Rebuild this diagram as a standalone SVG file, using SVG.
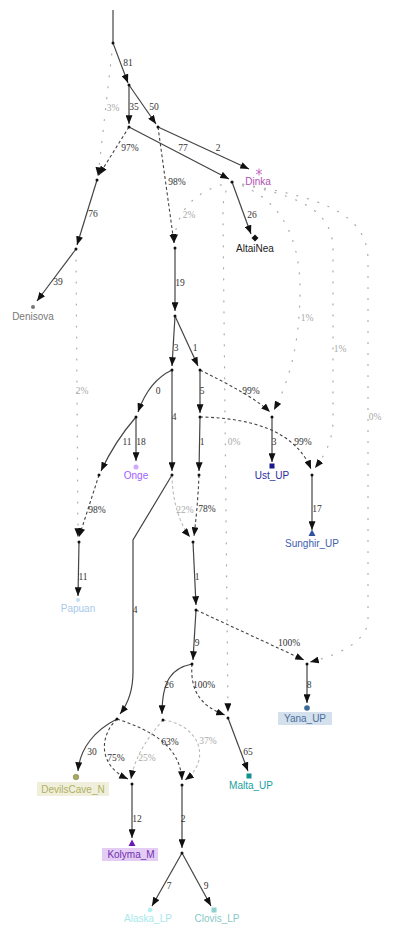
<svg xmlns="http://www.w3.org/2000/svg" width="403" height="947" viewBox="0 0 403 947">
<defs>
<marker id="ah" viewBox="0 0 10 8" refX="10" refY="4" markerWidth="9" markerHeight="7" markerUnits="userSpaceOnUse" orient="auto"><path d="M0,0 L10,4 L0,8 z" fill="#111"/></marker>
</defs>
<style>
.e{fill:none;stroke:#444;stroke-width:1.2}
.a{marker-end:url(#ah)}
.d{fill:none;stroke:#444;stroke-width:1.1;stroke-dasharray:3,2.5}
.l{fill:none;stroke:#bbb;stroke-width:1.1;stroke-dasharray:3,2.5}
.o{fill:none;stroke:#aaa;stroke-width:1.2;stroke-dasharray:1,10;stroke-linecap:round}
.el{font-family:"Liberation Serif",serif;font-size:9.5px;fill:#333;text-anchor:middle}
.pl{font-family:"Liberation Serif",serif;font-size:9.5px;fill:#aaa;text-anchor:middle}
.nl{font-family:"Liberation Sans",Arial,sans-serif;font-size:10px;text-anchor:middle}
.n{fill:#111}
</style>
<rect width="403" height="947" fill="#fff"/>
<g id="connectors">
<path class="e" d="M113,10 L113,43"/>
<path class="e a" d="M113,43 L128,83"/>
<path class="e a" d="M129,85 L129,124"/>
<path class="e a" d="M129,85 L156,124"/>
<path class="e a" d="M129,127 L229,179"/>
<path class="e a" d="M158,127 L249,169"/>
<path class="e a" d="M232,182 L251,234"/>
<path class="e a" d="M97,180 L77,245"/>
<path class="e a" d="M76,249 L37,301"/>
<path class="e a" d="M175,248 L175,311"/>
<path class="e a" d="M175,316 L172,366"/>
<path class="e a" d="M175,316 L198,366"/>
<path class="e a" d="M172,370 C155,378 145,392 138,412"/>
<path class="e a" d="M172,370 L172,471"/>
<path class="e a" d="M136,417 L136,461"/>
<path class="e a" d="M136,417 C122,433 110,452 101,471"/>
<path class="e a" d="M200,370 L200,413"/>
<path class="e a" d="M200,417 L199,471"/>
<path class="e a" d="M79,542 L78,596"/>
<path class="e a" d="M272,417 L272,462"/>
<path class="e a" d="M312,475 L312,530"/>
<path class="e a" d="M172,475 L133,540 L133,672 C133,690 127,705 120,714"/>
<path class="e a" d="M193,542 L196,605"/>
<path class="e a" d="M196,610 L193,660"/>
<path class="e a" d="M192,664 C172,668 162,680 162,714"/>
<path class="e a" d="M307,664 L307,703"/>
<path class="e a" d="M228,718 L248,771"/>
<path class="e a" d="M117,719 C95,730 80,748 78,771"/>
<path class="e a" d="M132,784 L132,838"/>
<path class="e a" d="M182,785 L182,848"/>
<path class="e a" d="M182,853 L152,906"/>
<path class="e a" d="M182,853 L211,906"/>
<path class="d a" d="M129,127 L99,175"/>
<path class="d a" d="M158,127 L174,243"/>
<path class="d a" d="M99,475 L79,537"/>
<path class="d a" d="M200,370 C230,385 255,398 270,412"/>
<path class="d a" d="M200,417 C250,418 295,430 311,469"/>
<path class="d a" d="M199,475 C198,500 196,520 194,536"/>
<path class="d a" d="M196,610 L304,660"/>
<path class="d a" d="M192,664 C190,690 200,706 225,715"/>
<path class="d a" d="M117,719 C100,735 97,765 128,779"/>
<path class="d a" d="M117,719 C150,730 180,745 182,780"/>
<path class="l a" d="M172,475 C172,500 180,525 190,537"/>
<path class="l a" d="M163,720 C150,735 135,755 131,779"/>
<path class="l a" d="M163,720 C200,725 212,760 185,780"/>
<path class="o a" d="M113,43 L98,176"/>
<path class="o a" d="M232,182 C195,190 176,210 174,243"/>
<path class="o a" d="M76,249 L78,537"/>
<path class="o a" d="M232,182 C275,195 300,230 300,290 C300,340 290,380 274,410"/>
<path class="o a" d="M232,182 C290,195 333,205 333,250 L333,420 C333,440 325,455 315,468"/>
<path class="o a" d="M232,182 C300,195 368,205 368,260 L368,620 C368,640 340,655 310,662"/>
<path class="o a" d="M232,182 C224,190 223,200 223,215 L228,712"/>
</g>
<g id="edge-labels">
<text class="el" x="128" y="66">81</text>
<text class="el" x="134" y="110">35</text>
<text class="el" x="154" y="110">50</text>
<text class="pl" x="113" y="111">3%</text>
<text class="el" x="130" y="151">97%</text>
<text class="el" x="183" y="151">77</text>
<text class="el" x="218" y="151">2</text>
<text class="el" x="177" y="185">98%</text>
<text class="pl" x="189" y="218">2%</text>
<text class="el" x="252" y="218">26</text>
<text class="el" x="93" y="217">76</text>
<text class="el" x="58" y="285">39</text>
<text class="el" x="180" y="286">19</text>
<text class="el" x="176" y="351">3</text>
<text class="el" x="195" y="351">1</text>
<text class="pl" x="307" y="321">1%</text>
<text class="pl" x="340" y="352">1%</text>
<text class="pl" x="375" y="420">0%</text>
<text class="pl" x="82" y="394">2%</text>
<text class="el" x="158" y="394">0</text>
<text class="el" x="202" y="394">5</text>
<text class="el" x="251" y="394">99%</text>
<text class="el" x="174" y="420">4</text>
<text class="el" x="127" y="445">11</text>
<text class="el" x="141" y="445">18</text>
<text class="el" x="202" y="445">1</text>
<text class="pl" x="234" y="445">0%</text>
<text class="el" x="274" y="445">3</text>
<text class="el" x="303" y="445">99%</text>
<text class="el" x="97" y="513">98%</text>
<text class="pl" x="185" y="513">22%</text>
<text class="el" x="207" y="512">78%</text>
<text class="el" x="317" y="512">17</text>
<text class="el" x="83" y="580">11</text>
<text class="el" x="197" y="580">1</text>
<text class="el" x="135" y="613">4</text>
<text class="el" x="197" y="646">9</text>
<text class="el" x="289" y="646">100%</text>
<text class="el" x="169" y="688">26</text>
<text class="el" x="204" y="688">100%</text>
<text class="el" x="309" y="688">8</text>
<text class="el" x="170" y="745">63%</text>
<text class="pl" x="208" y="744">37%</text>
<text class="el" x="248" y="755">65</text>
<text class="el" x="92" y="755">30</text>
<text class="el" x="116" y="761">75%</text>
<text class="pl" x="147" y="761">25%</text>
<text class="el" x="137" y="822">12</text>
<text class="el" x="183" y="822">2</text>
<text class="el" x="169" y="889">7</text>
<text class="el" x="206" y="889">9</text>
</g>
<g id="internal-nodes">
<circle class="n" cx="113" cy="43" r="1.5"/>
<circle class="n" cx="129" cy="85" r="1.5"/>
<circle class="n" cx="129" cy="127" r="1.5"/>
<circle class="n" cx="158" cy="127" r="1.5"/>
<circle class="n" cx="97" cy="180" r="1.5"/>
<circle class="n" cx="232" cy="182" r="1.5"/>
<circle class="n" cx="175" cy="248" r="1.5"/>
<circle class="n" cx="76" cy="249" r="1.5"/>
<circle class="n" cx="175" cy="316" r="1.5"/>
<circle class="n" cx="172" cy="370" r="1.5"/>
<circle class="n" cx="200" cy="370" r="1.5"/>
<circle class="n" cx="136" cy="417" r="1.5"/>
<circle class="n" cx="200" cy="417" r="1.5"/>
<circle class="n" cx="272" cy="417" r="1.5"/>
<circle class="n" cx="172" cy="475" r="1.5"/>
<circle class="n" cx="99" cy="475" r="1.5"/>
<circle class="n" cx="199" cy="475" r="1.5"/>
<circle class="n" cx="312" cy="475" r="1.5"/>
<circle class="n" cx="79" cy="542" r="1.5"/>
<circle class="n" cx="193" cy="542" r="1.5"/>
<circle class="n" cx="196" cy="610" r="1.5"/>
<circle class="n" cx="192" cy="664" r="1.5"/>
<circle class="n" cx="307" cy="664" r="1.5"/>
<circle class="n" cx="117" cy="719" r="1.5"/>
<circle class="n" cx="163" cy="720" r="1.5"/>
<circle class="n" cx="228" cy="718" r="1.5"/>
<circle class="n" cx="132" cy="784" r="1.5"/>
<circle class="n" cx="182" cy="785" r="1.5"/>
<circle class="n" cx="182" cy="853" r="1.5"/>
</g>
<g id="Dinka">
<path d="M259,168.5 L259,175.5 M256,170 L262,174 M256,174 L262,170" stroke="#c060c0" stroke-width="0.9"/>
<text class="nl" x="258" y="185" fill="#b050b0">Dinka</text>
</g>
<g id="AltaiNea">
<path d="M255,234.5 L258.5,238 L255,241.5 L251.5,238 z" fill="#111"/>
<text class="nl" x="255" y="252" fill="#222">AltaiNea</text>
</g>
<g id="Denisova">
<circle cx="33" cy="307" r="2" fill="#777"/>
<text class="nl" x="33" y="320" fill="#777">Denisova</text>
</g>
<g id="Onge">
<circle cx="136" cy="467" r="2.5" fill="#d0a8ff"/>
<text class="nl" x="136" y="479" fill="#a060ff">Onge</text>
</g>
<g id="Papuan">
<circle cx="78" cy="600" r="2" fill="#c8dcf2"/>
<text class="nl" x="78" y="612" fill="#a8c8ec">Papuan</text>
</g>
<g id="Ust_UP">
<rect x="269.5" y="463.5" width="5" height="5" fill="#1a1a8a"/>
<text class="nl" x="272" y="479" fill="#2a2aa0">Ust_UP</text>
</g>
<g id="Sunghir_UP">
<path d="M312,529.5 L315.5,536 L308.5,536 z" fill="#3050a0"/>
<text class="nl" x="312" y="547" fill="#4060b0">Sunghir_UP</text>
</g>
<g id="Yana_UP">
<circle cx="307" cy="708" r="2.8" fill="#3a6a9a"/>
<rect x="278" y="712" width="54" height="13" fill="#d4e0ec"/>
<text class="nl" x="305" y="722" fill="#4a70a0">Yana_UP</text>
</g>
<g id="Malta_UP">
<rect x="246.5" y="773.5" width="5" height="5" fill="#109090"/>
<text class="nl" x="251" y="789" fill="#20a0a0">Malta_UP</text>
</g>
<g id="DevilsCave_N">
<circle cx="76" cy="777" r="2.8" fill="#a8a860" stroke="#777740" stroke-width="0.5"/>
<rect x="37" y="782" width="72" height="14" fill="#efefdc"/>
<text class="nl" x="73" y="792.5" fill="#b0b060">DevilsCave_N</text>
</g>
<g id="Kolyma_M">
<path d="M132,839.5 L135.5,846 L128.5,846 z" fill="#6a1ab0"/>
<rect x="102" y="848" width="56" height="13" fill="#e4ccf4"/>
<text class="nl" x="131" y="858" fill="#7030b0">Kolyma_M</text>
</g>
<g id="Alaska_LP">
<circle cx="150" cy="910" r="2.3" fill="#b0f0f0"/>
<text class="nl" x="148" y="922" fill="#a8e8ec">Alaska_LP</text>
</g>
<g id="Clovis_LP">
<rect x="211.5" y="907.5" width="5" height="5" fill="#90d0d0"/>
<text class="nl" x="217" y="922" fill="#88c8c8">Clovis_LP</text>
</g>
</svg>
